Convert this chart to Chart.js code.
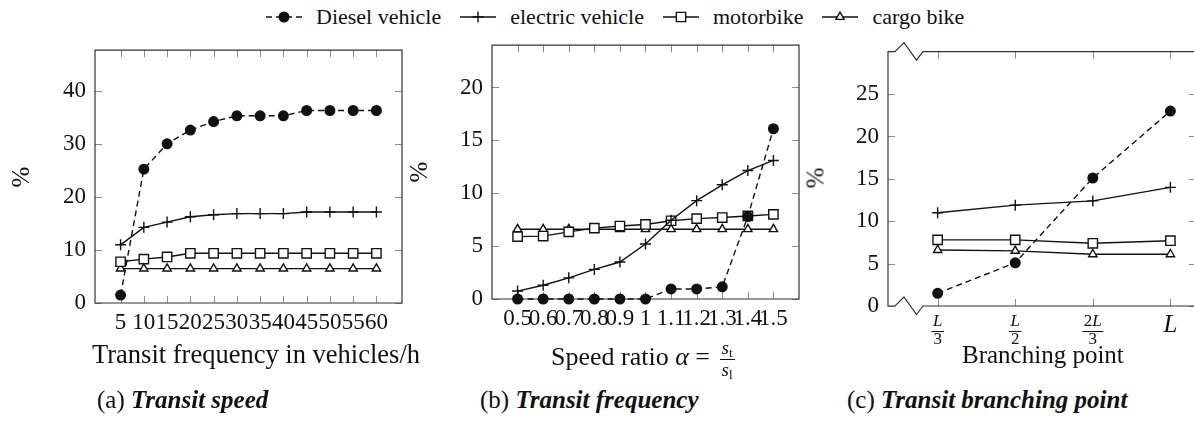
<!DOCTYPE html>
<html>
<head>
<meta charset="utf-8">
<script src="https://cdn.jsdelivr.net/npm/chart.js@4.4.0/dist/chart.umd.min.js"></script>
<style>
    body { margin: 0; width: 1194px; height: 421px; overflow: hidden; background: #fff; position: relative; font-family: "Liberation Serif", serif; color: #111; }
    canvas { position: absolute; top: 0; }
    .t { position: absolute; white-space: nowrap; line-height: 1; }
    .ylab { position: absolute; font-size: 25px; line-height: 1; transform: translate(-50%, -50%) rotate(-90deg); }
    #legend { position: absolute; left: 265px; top: 6px; display: flex; align-items: center; font-size: 22px; line-height: 1; }
    #legend canvas { position: static; margin-right: 13px; }
    #legend span { margin-right: 18px; }
    .frac { display: inline-block; vertical-align: middle; text-align: center; font-size: 19px; line-height: 1.0; margin-left: 3px; }
    .frac > span { display: block; padding: 0 2px; }
    .frac > span:first-child { border-bottom: 1px solid #111; }
    sub { font-size: 13px; vertical-align: -3px; }
    .cap i { font-weight: bold; }
</style>
</head>
<body>
<div id="legend"></div>

<canvas id="chart-a" width="430" height="345" style="left:0px"></canvas>
<canvas id="chart-b" width="400" height="345" style="left:430px"></canvas>
<canvas id="chart-c" width="400" height="345" style="left:830px"></canvas>

<div class="ylab" style="left:20px;top:177px">%</div>
<div class="ylab" style="left:418px;top:172px">%</div>
<div class="ylab" style="left:815px;top:178px">%</div>

<div class="t" style="left:92px;top:341px;font-size:26.5px">Transit frequency in vehicles/h</div>
<div class="t" style="left:551px;top:338px;font-size:26px">Speed ratio <i>α</i> = <span class="frac"><span><i>s</i><sub>t</sub></span><span><i>s</i><sub>l</sub></span></span></div>
<div class="t" style="left:962px;top:342px;font-size:25px">Branching point</div>

<div class="t cap" style="left:97px;top:387px;font-size:25px">(a) <i>Transit speed</i></div>
<div class="t cap" style="left:480px;top:387px;font-size:25px">(b) <i>Transit frequency</i></div>
<div class="t cap" style="left:847px;top:387px;font-size:25px">(c) <i>Transit branching point</i></div>

<script>
// legend
const seriesNames = ["Diesel vehicle", "electric vehicle", "motorbike", "cargo bike"];

// (a) transit frequency
const freqValues = [5, 10, 15, 20, 25, 30, 35, 40, 45, 50, 55, 60];
const freqDiesel = [1.5, 25.3, 30.1, 32.7, 34.3, 35.4, 35.4, 35.4, 36.4, 36.4, 36.4, 36.4];
const freqElectric = [11.0, 14.3, 15.3, 16.3, 16.7, 16.9, 16.9, 16.9, 17.2, 17.2, 17.2, 17.2];
const freqMotorbike = [7.8, 8.3, 8.7, 9.4, 9.4, 9.4, 9.4, 9.4, 9.4, 9.4, 9.4, 9.4];
const freqCargo = [6.5, 6.5, 6.5, 6.5, 6.5, 6.5, 6.5, 6.5, 6.5, 6.5, 6.5, 6.5];
const freqYTicks = [0, 10, 20, 30, 40];

// (b) speed ratio
const speedValues = [0.5, 0.6, 0.7, 0.8, 0.9, 1.0, 1.1, 1.2, 1.3, 1.4, 1.5];
const speedDiesel = [0, 0, 0, 0, 0, 0, 0.95, 0.95, 1.15, 7.8, 16.1];
const speedElectric = [0.75, 1.3, 2.0, 2.8, 3.5, 5.2, 7.45, 9.3, 10.8, 12.15, 13.1];
const speedMotorbike = [5.9, 5.95, 6.35, 6.7, 6.9, 7.05, 7.4, 7.6, 7.7, 7.85, 8.0];
const speedCargo = [6.6, 6.6, 6.6, 6.6, 6.6, 6.6, 6.6, 6.6, 6.6, 6.6, 6.6];
const speedYTicks = [0, 5, 10, 15, 20];

// (c) branching point
const branchNum = ["L", "L", "2L", "L"];
const branchDen = ["3", "2", "3", ""];
const branchDiesel = [1.5, 5.1, 15.1, 23.0];
const branchElectric = [11.0, 11.9, 12.4, 14.0];
const branchMotorbike = [7.8, 7.8, 7.4, 7.7];
const branchCargo = [6.6, 6.5, 6.1, 6.1];
const branchYTicks = [0, 5, 10, 15, 20, 25];

const INK = "#111";
const styles = [
    { pointStyle: "circle", radius: 4.8, fill: INK, dash: [6, 4] },
    { pointStyle: "cross", radius: 5.5, fill: INK, dash: [] },
    { pointStyle: "rect", radius: 6.6, fill: "#fff", dash: [] },
    { pointStyle: "triangle", radius: 4.8, fill: "#fff", dash: [] }
];

// legend entries
const legend = document.getElementById("legend");
seriesNames.forEach((name, i) => {
    const c = document.createElement("canvas");
    c.width = 38; c.height = 20;
    const ctx = c.getContext("2d");
    const s = styles[i];
    ctx.strokeStyle = INK; ctx.lineWidth = 1.4;
    ctx.setLineDash(s.dash);
    ctx.beginPath(); ctx.moveTo(1, 10); ctx.lineTo(37, 10); ctx.stroke();
    ctx.setLineDash([]);
    ctx.fillStyle = s.fill;
    Chart.helpers.drawPoint(ctx, { pointStyle: s.pointStyle, radius: s.radius, borderWidth: 1.4, rotation: 0 }, 19, 10);
    const span = document.createElement("span");
    span.textContent = name;
    legend.appendChild(c);
    legend.appendChild(span);
});

function toPoints(xs, ys) {
    return xs.map((x, i) => ({ x: x, y: ys[i] }));
}

function makeDatasets(xs, lists) {
    return lists.map((ys, i) => ({
        label: seriesNames[i],
        data: toPoints(xs, ys),
        borderColor: INK,
        borderWidth: 1.4,
        borderDash: styles[i].dash,
        pointStyle: styles[i].pointStyle,
        pointRadius: styles[i].radius,
        pointBackgroundColor: styles[i].fill,
        pointBorderColor: INK,
        pointBorderWidth: 1.4,
        tension: 0,
        clip: false
    }));
}

// box with inward ticks, like pgfplots
const pgfAxis = {
    id: "pgfAxis",
    beforeDatasetsDraw(chart, args, opts) {
        const { ctx, chartArea: a, scales: { x, y } } = chart;
        ctx.save();
        ctx.strokeStyle = "#8c8c8c";
        ctx.lineWidth = 1;
        ctx.beginPath();
        x.ticks.forEach(t => {
            const px = Math.round(x.getPixelForValue(t.value)) + 0.5;
            ctx.moveTo(px, a.bottom); ctx.lineTo(px, a.bottom - 7);
            ctx.moveTo(px, a.top); ctx.lineTo(px, a.top + 7);
        });
        y.ticks.forEach(t => {
            const py = Math.round(y.getPixelForValue(t.value)) + 0.5;
            ctx.moveTo(a.left, py); ctx.lineTo(a.left + 7, py);
            ctx.moveTo(a.right, py); ctx.lineTo(a.right - 7, py);
        });
        ctx.stroke();

        ctx.strokeStyle = "#333";
        ctx.lineWidth = 1.2;
        ctx.beginPath();
        if (opts.brk) {
            const zz = [[7, 0], [16, -9], [28.5, 8.5], [35, 0]];
            ctx.moveTo(a.right, a.top);
            for (let i = zz.length - 1; i >= 0; i--) ctx.lineTo(a.left + zz[i][0], a.top + zz[i][1]);
            ctx.lineTo(a.left, a.top);
            ctx.lineTo(a.left, a.bottom);
            zz.forEach(p => ctx.lineTo(a.left + p[0], a.bottom + p[1]));
            ctx.lineTo(a.right, a.bottom);
            ctx.lineTo(a.right, a.top);
        } else {
            ctx.rect(a.left, a.top, a.width, a.height);
        }
        ctx.stroke();
        ctx.restore();
    },
    afterDraw(chart, args, opts) {
        if (!opts.num) return;
        const { ctx, chartArea: a, scales: { x } } = chart;
        ctx.save();
        ctx.fillStyle = INK;
        ctx.strokeStyle = INK;
        ctx.textBaseline = "middle";
        opts.num.forEach((num, i) => {
            const px = x.getPixelForValue(i);
            const den = opts.den[i];
            if (!den) {
                ctx.font = "italic 25px 'Liberation Serif'";
                ctx.textAlign = "center";
                ctx.fillText(num, px, a.bottom + 19);
                return;
            }
            // numerator: digits upright, letter italic
            const digits = num.replace(/[A-Za-z]/g, "");
            const letter = num.replace(/[0-9]/g, "");
            ctx.font = "17px 'Liberation Serif'";
            const wd = ctx.measureText(digits).width;
            ctx.font = "italic 17px 'Liberation Serif'";
            const wl = ctx.measureText(letter).width;
            const w = wd + wl;
            ctx.textAlign = "left";
            ctx.font = "17px 'Liberation Serif'";
            ctx.fillText(digits, px - w / 2, a.bottom + 16);
            ctx.font = "italic 17px 'Liberation Serif'";
            ctx.fillText(letter, px - w / 2 + wd, a.bottom + 16);
            ctx.lineWidth = 1;
            ctx.beginPath();
            ctx.moveTo(px - w / 2 - 1.5, a.bottom + 25.5);
            ctx.lineTo(px + w / 2 + 1.5, a.bottom + 25.5);
            ctx.stroke();
            ctx.font = "17px 'Liberation Serif'";
            ctx.textAlign = "center";
            ctx.fillText(den, px, a.bottom + 34);
        });
        ctx.restore();
    }
};

function makeChart(id, xs, lists, xr, xTicks, yr, yTicks, xLabel, extra, area) {
    const pad = { left: 10, top: 20, right: 20, bottom: 10 };
    const chart = new Chart(document.getElementById(id), {
        type: "line",
        data: { datasets: makeDatasets(xs, lists) },
        options: {
            responsive: false,
            animation: false,
            devicePixelRatio: 1,
            layout: { padding: pad },
            plugins: { legend: { display: false }, tooltip: { enabled: false }, pgfAxis: extra },
            scales: {
                x: {
                    type: "linear", min: xr[0], max: xr[1],
                    afterBuildTicks: s => { s.ticks = xTicks.map(v => ({ value: v })); },
                    grid: { display: false, drawTicks: false },
                    border: { display: false },
                    ticks: {
                        autoSkip: false, maxRotation: 0, minRotation: 0, padding: 6,
                        color: INK, font: { family: "Liberation Serif", size: 23 },
                        callback: xLabel
                    }
                },
                y: {
                    type: "linear", min: yr[0], max: yr[1],
                    afterBuildTicks: s => { s.ticks = yTicks.map(v => ({ value: v })); },
                    grid: { display: false, drawTicks: false },
                    border: { display: false },
                    ticks: { padding: 9, color: INK, font: { family: "Liberation Serif", size: 23 } }
                }
            }
        },
        plugins: [pgfAxis]
    });
    // put the plot box where the reference has it
    const a = chart.chartArea;
    chart.options.layout.padding = {
        left: pad.left + area.left - a.left,
        top: pad.top + area.top - a.top,
        right: pad.right + a.right - area.right,
        bottom: pad.bottom + a.bottom - area.bottom
    };
    chart.update("none");
    return chart;
}

makeChart("chart-a", freqValues, [freqDiesel, freqElectric, freqMotorbike, freqCargo],
    [-0.5, 65.5], freqValues, [0, 47.8], freqYTicks,
    v => String(v), {}, { left: 95, top: 53, right: 402, bottom: 303 });

makeChart("chart-b", speedValues, [speedDiesel, speedElectric, speedMotorbike, speedCargo],
    [0.4, 1.6], speedValues, [0, 24], speedYTicks,
    v => String(+v.toFixed(1)), {}, { left: 62, top: 48, right: 369, bottom: 299 });

makeChart("chart-c", [0, 1, 2, 3], [branchDiesel, branchElectric, branchMotorbike, branchCargo],
    [-0.64, 3.33], [0, 1, 2, 3], [0, 30], branchYTicks,
    () => "", { brk: true, num: branchNum, den: branchDen }, { left: 58, top: 54.5, right: 366, bottom: 306 });
</script>
</body>
</html>
